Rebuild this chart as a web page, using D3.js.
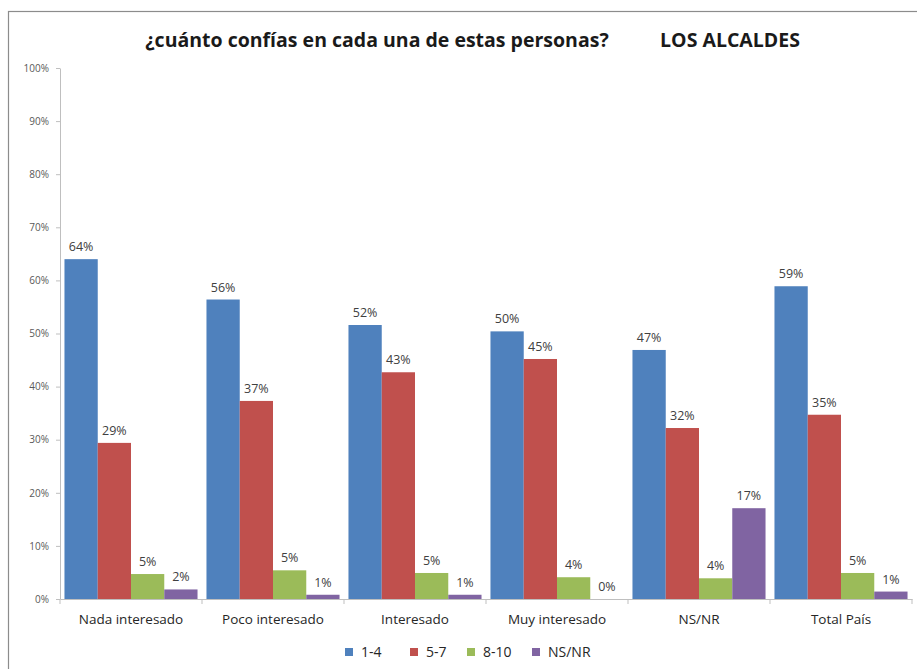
<!DOCTYPE html>
<html>
<head>
<meta charset="utf-8">
<style>
    body { margin: 0; background: #fff; }
    text { font-family: "Open Sans", "Noto Sans", sans-serif; }
    .axis path, .axis line { stroke: #bfbfbf; }
</style>
</head>
<body>
<svg width="917" height="669"></svg>
<script src="https://cdn.jsdelivr.net/npm/d3@7"></script>
<script>
var categories = ["Nada interesado", "Poco interesado", "Interesado", "Muy interesado", "NS/NR", "Total País"];
var seriesNames = ["1-4", "5-7", "8-10", "NS/NR"];
var s1_4 = [64.0, 56.4, 51.6, 50.4, 46.9, 58.9];
var s5_7 = [29.4, 37.3, 42.7, 45.2, 32.2, 34.7];
var s8_10 = [4.7, 5.4, 4.9, 4.1, 3.9, 4.9];
var sNsNr = [1.8, 0.8, 0.8, 0.0, 17.1, 1.4];
var colors = ["#4f81bd", "#c0504d", "#9bbb59", "#8064a2"];
var yTicks = [0, 10, 20, 30, 40, 50, 60, 70, 80, 90, 100];

var series = [s1_4, s5_7, s8_10, sNsNr];

var svg = d3.select("svg");
var plotLeft = 60, plotRight = 912, plotTop = 68, plotBottom = 599;

// chart frame (runs off the picture at right and bottom)
svg.append("rect")
    .attr("x", 8.5).attr("y", 11.5)
    .attr("width", 1000).attr("height", 1000)
    .attr("fill", "none").attr("stroke", "#8c8c8c").attr("stroke-width", 1.2);

// title
svg.append("text")
    .attr("x", 377).attr("y", 47)
    .attr("text-anchor", "middle")
    .attr("font-size", 19.5).attr("font-weight", "bold").attr("fill", "#1a1a1a")
    .text("¿cuánto confías en cada una de estas personas?");
svg.append("text")
    .attr("x", 730).attr("y", 47)
    .attr("text-anchor", "middle")
    .attr("font-size", 19.5).attr("font-weight", "bold").attr("fill", "#1a1a1a")
    .text("LOS ALCALDES");

var x0 = d3.scaleBand().domain(categories).range([plotLeft, plotRight])
    .paddingInner(0.063).paddingOuter(0.0315);
var x1 = d3.scaleBand().domain(seriesNames).range([0, x0.bandwidth()]);
var y = d3.scaleLinear().domain([0, 100]).range([plotBottom, plotTop]);

// y axis
var yAxis = svg.append("g").attr("class", "axis")
    .attr("transform", "translate(" + plotLeft + ",0)")
    .call(d3.axisLeft(y).tickValues(yTicks).tickSize(4).tickSizeOuter(0).tickFormat(function(d) { return d + "%"; }));
yAxis.selectAll("text").attr("font-size", 10).attr("fill", "#595959")
    .attr("font-family", "'Liberation Sans', sans-serif").attr("dx", -4);

// bars
var groups = svg.append("g").selectAll("g")
    .data(categories)
    .enter().append("g")
    .attr("transform", function(d) { return "translate(" + x0(d) + ",0)"; });

function rows(d, i) {
    return series.map(function(s, k) { return { key: seriesNames[k], value: s[i], k: k }; });
}

groups.selectAll("rect")
    .data(rows)
    .enter().append("rect")
    .attr("x", function(d) { return x1(d.key); })
    .attr("y", function(d) { return y(d.value); })
    .attr("width", x1.bandwidth())
    .attr("height", function(d) { return y(0) - y(d.value); })
    .attr("fill", function(d) { return colors[d.k]; });

groups.selectAll("text")
    .data(rows)
    .enter().append("text")
    .attr("x", function(d) { return x1(d.key) + x1.bandwidth() / 2; })
    .attr("y", function(d) { return y(d.value) - 8; })
    .attr("text-anchor", "middle")
    .attr("font-size", 12.5).attr("fill", "#404040")
    .text(function(d) { return Math.round(d.value) + "%"; });

// x axis
var xAxis = svg.append("g").attr("class", "axis")
    .attr("transform", "translate(0," + plotBottom + ")")
    .call(d3.axisBottom(x0).tickSize(0).tickSizeOuter(0));
xAxis.selectAll("text").attr("font-size", 13.5).attr("fill", "#262626").attr("dy", "1.6em");
var step = x0.step();
var bounds = d3.range(categories.length + 1).map(function(i) { return plotLeft + i * step; });
xAxis.selectAll(".sep").data(bounds).enter().append("line")
    .attr("x1", function(d) { return d; }).attr("x2", function(d) { return d; })
    .attr("y1", 0).attr("y2", 5);

// legend
var legendX = [345, 410, 467, 532];
var legend = svg.append("g").selectAll("g")
    .data(seriesNames)
    .enter().append("g")
    .attr("transform", function(d, i) { return "translate(" + legendX[i] + ",652)"; });
legend.append("rect").attr("x", 0).attr("y", -4).attr("width", 8).attr("height", 8)
    .attr("fill", function(d, i) { return colors[i]; });
legend.append("text").attr("x", 16).attr("y", 5)
    .attr("font-size", 14).attr("fill", "#262626")
    .text(function(d) { return d; });
</script>
</body>
</html>
